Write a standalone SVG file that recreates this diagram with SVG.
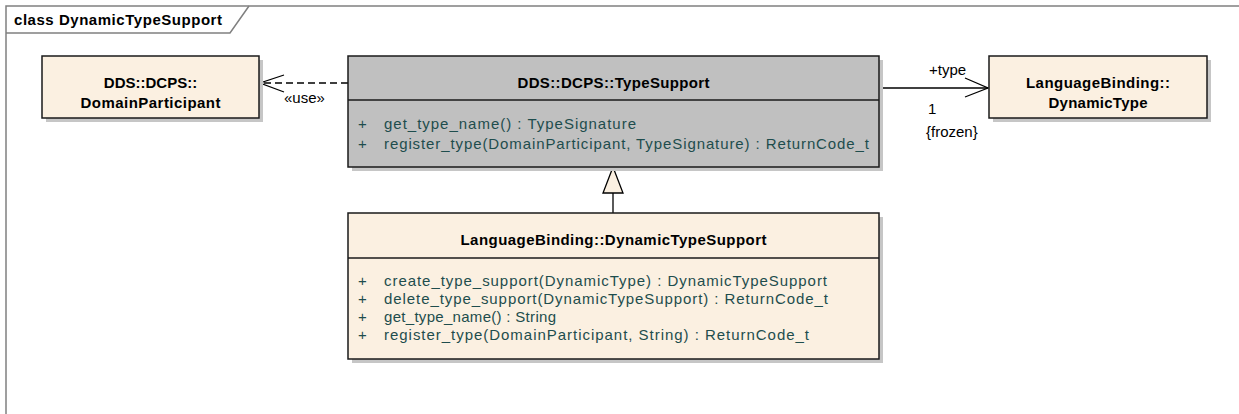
<svg xmlns="http://www.w3.org/2000/svg" width="1239" height="414" viewBox="0 0 1239 414">
<style>
.frame{fill:none;stroke:#808080;stroke-width:1.5}
.box{stroke:#1a1a1a;stroke-width:1.5}
.cream{fill:#fbf0e1}
.grey{fill:#c0c0c0}
.shadow{fill:#c6c6c6}
.t{font-family:"Liberation Sans",Arial,sans-serif;font-weight:bold;font-size:15px;fill:#000}
.op{font-family:"Liberation Sans",Arial,sans-serif;font-size:15px;fill:#1e4d4d}
.lbl{font-family:"Liberation Sans",Arial,sans-serif;font-size:15px;fill:#000}
.conn{fill:none;stroke:#000;stroke-width:1.3}
</style>
<rect width="1239" height="414" fill="#fff"/>
<g id="frame">
<path class="frame" d="M6,414 V6 H1239"/>
<path class="frame" d="M6,33 H230 L249,6"/>
<text class="t" x="14" y="25" textLength="208">class DynamicTypeSupport</text>
</g>
<g id="connectors">
<line class="conn" x1="348" y1="83" x2="261" y2="83" stroke-dasharray="7,4"/>
<polyline class="conn" points="284,75 260,83 284,92"/>
<text class="lbl" x="284" y="103">«use»</text>
<line class="conn" x1="879" y1="88" x2="988" y2="88"/>
<polyline class="conn" points="965,78 988,88 965,97"/>
<text class="lbl" x="929" y="75">+type</text>
<text class="lbl" x="928" y="114">1</text>
<text class="lbl" x="926" y="137">{frozen}</text>
<line class="conn" x1="613" y1="193" x2="613" y2="213"/>
<polygon points="613,167 603,193 623,193" fill="#fbf0e1" stroke="#000" stroke-width="1.3"/>
</g>
<g id="DomainParticipant">
<rect class="shadow" x="46" y="60" width="217" height="62"/>
<rect class="box cream" x="42" y="56" width="217" height="62"/>
<text class="t" x="150.5" y="88" text-anchor="middle">DDS::DCPS::</text>
<text class="t" x="150.5" y="108" text-anchor="middle" textLength="140">DomainParticipant</text>
</g>
<g id="TypeSupport">
<rect class="shadow" x="352" y="60" width="531" height="111"/>
<rect class="box grey" x="348" y="56" width="531" height="111"/>
<line class="box" x1="348" y1="100" x2="879" y2="100"/>
<text class="t" x="613.5" y="88" text-anchor="middle" textLength="192">DDS::DCPS::TypeSupport</text>
<text class="op" x="358" y="129">+</text>
<text class="op" x="384" y="129" textLength="252">get_type_name() : TypeSignature</text>
<text class="op" x="358" y="149">+</text>
<text class="op" x="384" y="149" textLength="485">register_type(DomainParticipant, TypeSignature) : ReturnCode_t</text>
</g>
<g id="DynamicType">
<rect class="shadow" x="993" y="60" width="218" height="62"/>
<rect class="box cream" x="989" y="56" width="218" height="62"/>
<text class="t" x="1098" y="88" text-anchor="middle" textLength="144">LanguageBinding::</text>
<text class="t" x="1098" y="108" text-anchor="middle" textLength="99">DynamicType</text>
</g>
<g id="DynamicTypeSupport">
<rect class="shadow" x="352" y="217" width="531" height="146"/>
<rect class="box cream" x="348" y="213" width="531" height="146"/>
<line class="box" x1="348" y1="258" x2="879" y2="258"/>
<text class="t" x="613.5" y="245" text-anchor="middle" textLength="306">LanguageBinding::DynamicTypeSupport</text>
<text class="op" x="358" y="286">+</text>
<text class="op" x="384" y="286" textLength="443">create_type_support(DynamicType) : DynamicTypeSupport</text>
<text class="op" x="358" y="304">+</text>
<text class="op" x="384" y="304" textLength="444">delete_type_support(DynamicTypeSupport) : ReturnCode_t</text>
<text class="op" x="358" y="322">+</text>
<text class="op" x="384" y="322" textLength="172">get_type_name() : String</text>
<text class="op" x="358" y="340">+</text>
<text class="op" x="384" y="340" textLength="425">register_type(DomainParticipant, String) : ReturnCode_t</text>
</g>
</svg>
